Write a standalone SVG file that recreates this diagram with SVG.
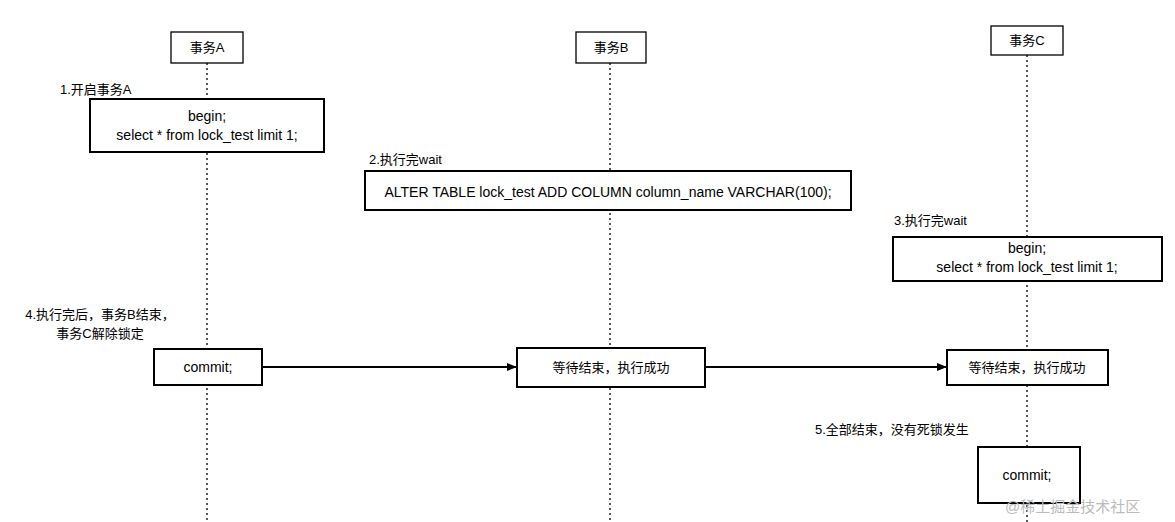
<svg xmlns="http://www.w3.org/2000/svg" width="1175" height="522" viewBox="0 0 1175 522">
<defs>
<style>
text{font-family:"Liberation Sans","Noto Sans CJK SC",sans-serif;font-size:13px;fill:#000}
.t{font-size:14px}
.b{fill:#fff;stroke:#000;stroke-width:2}
.h{fill:#fff;stroke:#000;stroke-width:1.3}
.l{stroke:#000;stroke-width:1.3;stroke-dasharray:2 3;fill:none}
.c{stroke:#000;stroke-width:2;fill:none}
</style>
<marker id="ar" markerWidth="10" markerHeight="8" refX="9" refY="4" orient="auto" markerUnits="userSpaceOnUse"><path d="M0,0L10,4L0,8z" fill="#000"/></marker>
</defs>
<rect width="1175" height="522" fill="#fff"/>
<g id="lifelines">
<line class="l" x1="207" y1="63" x2="207" y2="522"/>
<line class="l" x1="610" y1="63" x2="610" y2="522"/>
<line class="l" x1="1027" y1="55" x2="1027" y2="522"/>
</g>
<g id="hA"><rect class="h" x="171" y="32" width="72" height="31"/><text x="207" y="52" text-anchor="middle">事务A</text></g>
<g id="hB"><rect class="h" x="576" y="32" width="70" height="31"/><text x="611" y="52" text-anchor="middle">事务B</text></g>
<g id="hC"><rect class="h" x="991" y="26" width="72" height="29"/><text x="1027" y="45" text-anchor="middle">事务C</text></g>
<g id="labels">
<text x="60" y="94">1.开启事务A</text>
<text x="369" y="164">2.执行完wait</text>
<text x="894" y="225">3.执行完wait</text>
<text x="100" y="319" text-anchor="middle">4.执行完后，事务B结束，</text>
<text x="100" y="338" text-anchor="middle">事务C解除锁定</text>
<text x="815" y="434">5.全部结束，没有死锁发生</text>
</g>
<g id="n1"><rect class="b" x="90" y="99" width="234" height="53"/><text class="t" x="207" y="121" text-anchor="middle">begin;</text><text class="t" x="207" y="140" text-anchor="middle">select * from lock_test limit 1;</text></g>
<g id="n2"><rect class="b" x="365" y="171" width="486" height="39"/><text class="t" x="608" y="197" text-anchor="middle">ALTER TABLE lock_test ADD COLUMN column_name VARCHAR(100);</text></g>
<g id="n3"><rect class="b" x="893" y="237" width="269" height="44"/><text class="t" x="1027" y="253" text-anchor="middle">begin;</text><text class="t" x="1027" y="272" text-anchor="middle">select * from lock_test limit 1;</text></g>
<g id="n4"><rect class="b" x="154" y="349" width="108" height="36"/><text class="t" x="208" y="372" text-anchor="middle">commit;</text></g>
<g id="n5"><rect class="b" x="517" y="348" width="188" height="39"/><text x="611" y="372" text-anchor="middle">等待结束，执行成功</text></g>
<g id="n6"><rect class="b" x="947" y="350" width="161" height="35"/><text x="1027" y="372" text-anchor="middle">等待结束，执行成功</text></g>
<g id="n7"><rect class="b" x="978" y="447" width="102" height="56"/><text class="t" x="1027" y="480" text-anchor="middle">commit;</text></g>
<g id="connectors">
<line class="c" x1="262" y1="367" x2="516" y2="367" marker-end="url(#ar)"/>
<line class="c" x1="705" y1="367" x2="946" y2="367" marker-end="url(#ar)"/>
</g>
<text x="1005" y="512" style="fill:#bbb;font-size:15px">@稀土掘金技术社区</text>
</svg>
